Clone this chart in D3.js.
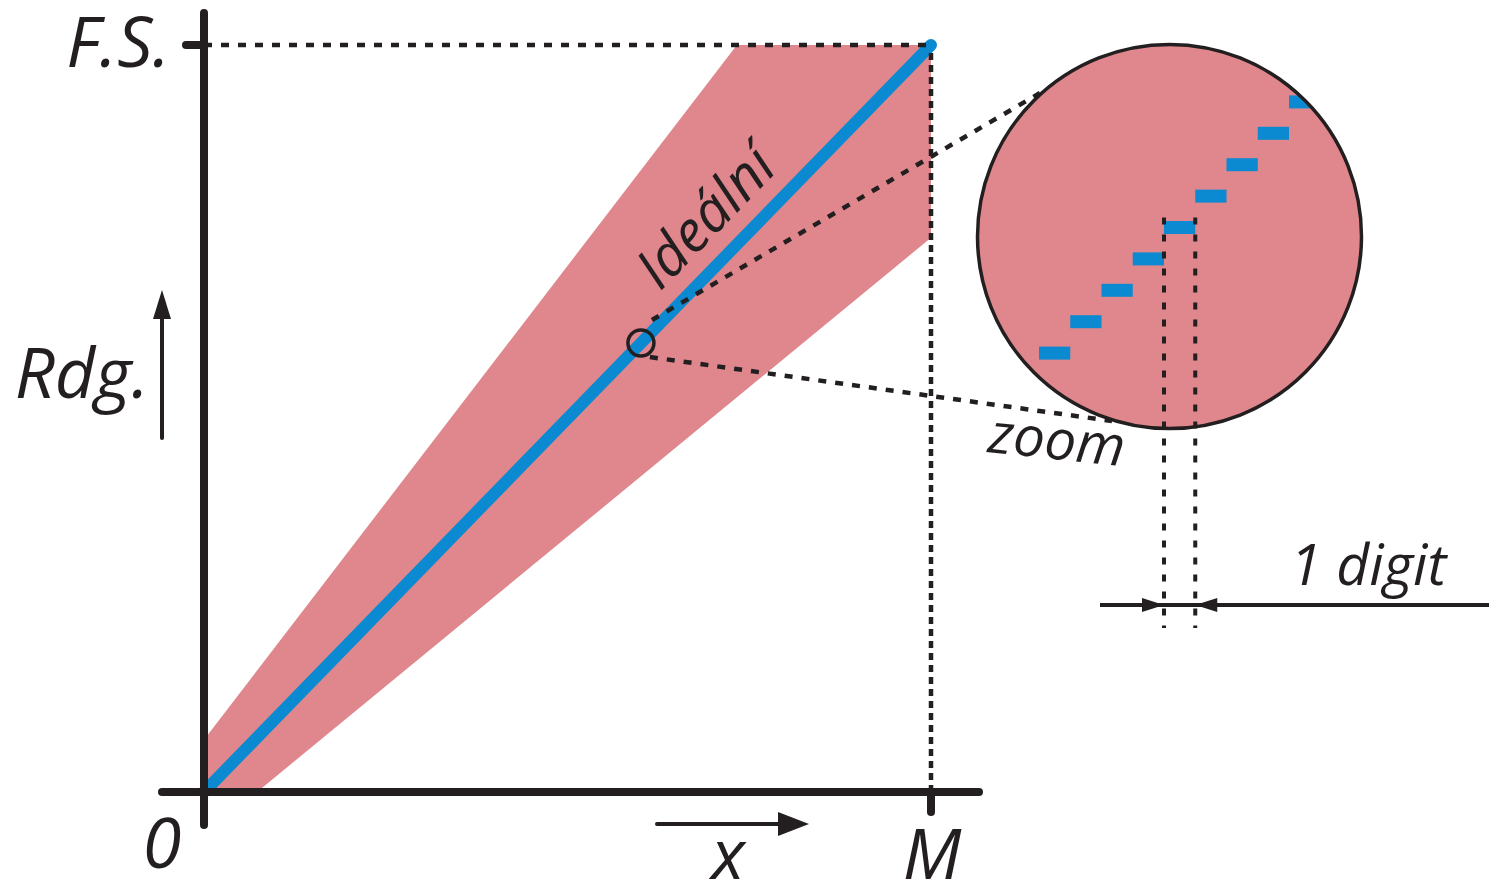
<!DOCTYPE html>
<html>
<head>
<meta charset="utf-8">
<script src="https://cdn.jsdelivr.net/npm/d3@7"></script>
<style>
  html, body { margin: 0; padding: 0; background: #fff; }
  svg text { font-family: "Open Sans", "Noto Sans", sans-serif; font-style: italic; fill: #231f20; }
</style>
</head>
<body>
<svg id="chart" width="1489" height="879"></svg>
<script>
// values, in units of M (x) and F.S. (y)
var ideal = [[0, 0], [1, 1]];
var bandUpper = [[0, 0.07], [0.733, 1], [1, 1]];
var bandLower = [[1, 0.742], [0.073, 0], [0, 0]];
var zoomPoint = [0.601, 0.601];
var xLabels = ["0", "M"];
var yLabels = ["F.S."];
// steps of the display, in digits, seen in the zoom circle
var digits = [-4, -3, -2, -1, 0, 1, 2, 3, 4];

var dark = "#231f20";
var red = "#df878c";
var blue = "#0b8ad1";

var svg = d3.select("#chart");

var x = d3.scaleLinear().domain([0, 1]).range([204, 931]);
var y = d3.scaleLinear().domain([0, 1]).range([792, 45]);

// zoomed view scales (one digit per unit)
var zx = d3.scaleLinear().domain([0, 1]).range([1164, 1195.25]);
var zy = d3.scaleLinear().domain([0, 1]).range([227.5, 196.1]);
var zc = {cx: 1169.5, cy: 236.5, r: 192};

var line = d3.line().x(function (d) { return x(d[0]); }).y(function (d) { return y(d[1]); });

// tolerance band
svg.append("path")
    .attr("d", line(bandUpper.concat(bandLower)) + "Z")
    .attr("fill", red);

// ideal line
svg.append("path")
    .attr("d", line(ideal))
    .attr("stroke", blue)
    .attr("stroke-width", 12)
    .attr("stroke-linecap", "round")
    .attr("fill", "none");

// guide lines to F.S. and M
svg.append("line")
    .attr("x1", x(0)).attr("x2", x(1)).attr("y1", y(1)).attr("y2", y(1))
    .attr("stroke", dark).attr("stroke-width", 4.5).attr("stroke-dasharray", "8,9");
svg.append("line")
    .attr("x1", x(1)).attr("x2", x(1)).attr("y1", y(1) + 8).attr("y2", y(0))
    .attr("stroke", dark).attr("stroke-width", 4.5).attr("stroke-dasharray", "7,5");

// axes
svg.append("line")
    .attr("x1", x(0)).attr("x2", x(0)).attr("y1", 13).attr("y2", 825)
    .attr("stroke", dark).attr("stroke-width", 8).attr("stroke-linecap", "round");
svg.append("line")
    .attr("x1", 162).attr("x2", 979).attr("y1", y(0)).attr("y2", y(0))
    .attr("stroke", dark).attr("stroke-width", 8).attr("stroke-linecap", "round");
svg.append("line")
    .attr("x1", x(0) - 18).attr("x2", x(0)).attr("y1", y(1)).attr("y2", y(1))
    .attr("stroke", dark).attr("stroke-width", 8).attr("stroke-linecap", "round");
svg.append("line")
    .attr("x1", x(1)).attr("x2", x(1)).attr("y1", y(0)).attr("y2", y(0) + 20)
    .attr("stroke", dark).attr("stroke-width", 8).attr("stroke-linecap", "round");

// axis labels
svg.append("text").attr("x", 170).attr("y", y(1) + 22)
    .attr("text-anchor", "end").attr("font-size", 70).text(yLabels[0]);
svg.append("text").attr("x", 149).attr("y", 398)
    .attr("text-anchor", "end").attr("font-size", 70).text("Rdg.");
svg.selectAll("text.xl").data(xLabels).enter().append("text")
    .attr("class", "xl")
    .attr("x", function (d, i) { return x(i) - (i === 0 ? 42 : -1); })
    .attr("y", function (d, i) { return i === 0 ? 868 : 879; })
    .attr("text-anchor", "middle").attr("font-size", 70)
    .text(function (d) { return d; });
svg.append("text").attr("x", 728).attr("y", 879)
    .attr("text-anchor", "middle").attr("font-size", 70).text("x");

// direction arrows
function arrow(x1, y1, x2, y2, len, half, w) {
    var a = Math.atan2(y2 - y1, x2 - x1);
    var bx = x2 - len * Math.cos(a), by = y2 - len * Math.sin(a);
    svg.append("line")
        .attr("x1", x1).attr("y1", y1).attr("x2", bx).attr("y2", by)
        .attr("stroke", dark).attr("stroke-width", w).attr("stroke-linecap", "round");
    svg.append("path")
        .attr("d", "M" + x2 + "," + y2 +
            "L" + (bx + half * Math.sin(a)) + "," + (by - half * Math.cos(a)) +
            "L" + (bx - half * Math.sin(a)) + "," + (by + half * Math.cos(a)) + "Z")
        .attr("fill", dark);
}
arrow(162, 438, 162, 290, 29, 9, 4);
arrow(657, 824, 809, 824, 31, 12, 4);

// label on ideal line
var ang = Math.atan2(y(1) - y(0), x(1) - x(0)) * 180 / Math.PI;
svg.append("text")
    .attr("transform", "translate(660,292) rotate(" + ang + ")")
    .attr("font-size", 57).text("Ideální");

// zoom marker and guide lines
var px = x(zoomPoint[0]), py = y(zoomPoint[1]);
svg.append("line")
    .attr("x1", px + 11).attr("y1", py - 23).attr("x2", 1040).attr("y2", 93)
    .attr("stroke", dark).attr("stroke-width", 4.5).attr("stroke-dasharray", "8,9");
svg.append("line")
    .attr("x1", px + 9).attr("y1", py + 14).attr("x2", 1112).attr("y2", 421)
    .attr("stroke", dark).attr("stroke-width", 4.5).attr("stroke-dasharray", "8,9");
svg.append("circle")
    .attr("cx", px).attr("cy", py).attr("r", 13)
    .attr("fill", "none").attr("stroke", dark).attr("stroke-width", 3.5);

// zoom circle
svg.append("clipPath").attr("id", "zclip")
    .append("circle").attr("cx", zc.cx).attr("cy", zc.cy).attr("r", zc.r);
svg.append("circle")
    .attr("cx", zc.cx).attr("cy", zc.cy).attr("r", zc.r)
    .attr("fill", red);
svg.append("g").attr("clip-path", "url(#zclip)")
    .selectAll("rect").data(digits).enter().append("rect")
    .attr("x", function (d) { return zx(d); })
    .attr("y", function (d) { return zy(d) - 6.5; })
    .attr("width", function (d) { return zx(d + 1) - zx(d); })
    .attr("height", 13)
    .attr("fill", blue);
svg.append("circle")
    .attr("cx", zc.cx).attr("cy", zc.cy).attr("r", zc.r)
    .attr("fill", "none").attr("stroke", dark).attr("stroke-width", 3.5);

svg.append("text")
    .attr("transform", "translate(987,452) rotate(6)")
    .attr("font-size", 56).text("zoom");

// one digit width
[0, 1].forEach(function (d) {
    svg.append("line")
        .attr("x1", zx(d)).attr("x2", zx(d)).attr("y1", zy(0) - 10).attr("y2", 628)
        .attr("stroke", dark).attr("stroke-width", 4).attr("stroke-dasharray", "7,10");
});
svg.append("line")
    .attr("x1", 1100).attr("x2", 1489).attr("y1", 605).attr("y2", 605)
    .attr("stroke", dark).attr("stroke-width", 4);
svg.append("path")
    .attr("d", "M" + zx(0) + ",605L" + (zx(0) - 22) + ",598L" + (zx(0) - 22) + ",612Z")
    .attr("fill", dark);
svg.append("path")
    .attr("d", "M" + zx(1) + ",605L" + (zx(1) + 22) + ",598L" + (zx(1) + 22) + ",612Z")
    .attr("fill", dark);
svg.append("text").attr("x", 1290).attr("y", 585)
    .attr("font-size", 57).text("1 digit");
</script>
</body>
</html>
